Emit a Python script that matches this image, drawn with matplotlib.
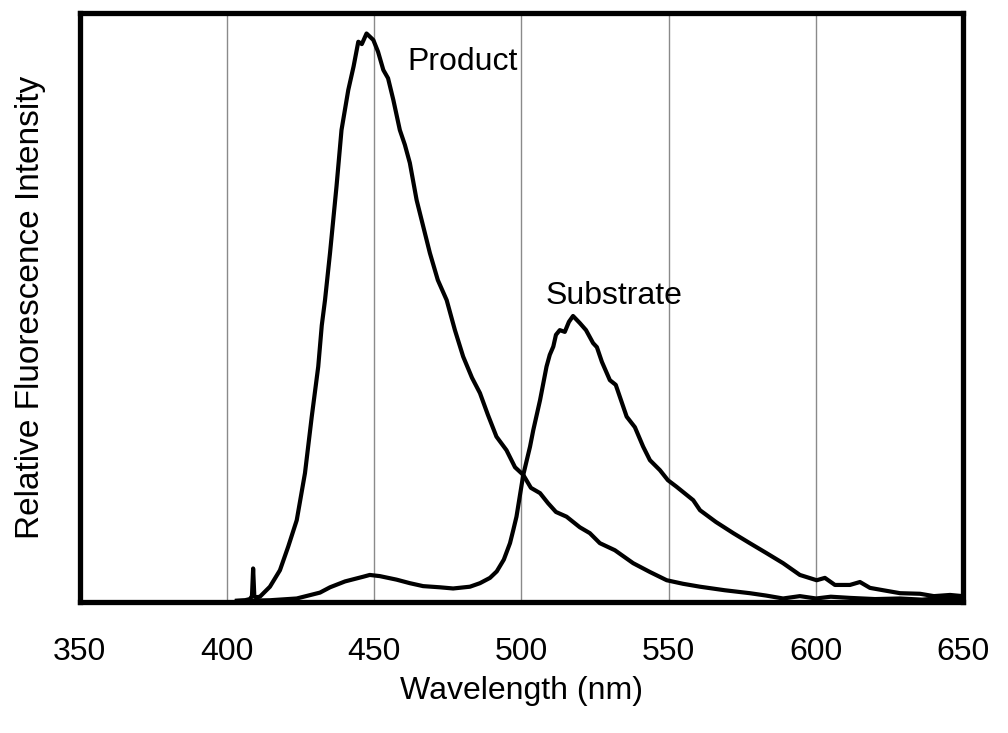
import matplotlib.pyplot as plt

plt.rcParams['font.family'] = ['Liberation Sans', 'DejaVu Sans']

# emission spectra (wavelength nm, relative intensity 0-1)
product_wl = [403.4, 406.1, 407.8, 408.5, 408.9, 409.3, 409.8, 411.2, 414.6, 418.0,
              420.8, 423.7, 426.5, 428.8, 431.0, 432.2, 433.3, 435.0, 437.2, 438.9,
              441.2, 443.0, 444.6, 445.8, 447.4, 449.7, 451.3, 453.1, 454.7, 456.5,
              458.7, 460.4, 462.1, 464.4, 466.5, 468.9, 471.6, 474.6, 477.4, 480.2,
              483.2, 485.9, 488.6, 491.5, 494.9, 497.8, 500.6, 503.2, 506.3, 509.0,
              511.7, 515.3, 519.8, 523.2, 526.6, 531.7, 537.9, 543.6, 549.3, 554.8,
              560.6, 569.0, 577.5, 583.0, 588.8, 594.5, 600.0, 605.0, 611.5, 620.0,
              628.5, 636.0, 643.0, 649.8]
product_val = [0.002, 0.003, 0.005, 0.010, 0.057, 0.010, 0.008, 0.009, 0.026, 0.054,
               0.094, 0.139, 0.219, 0.315, 0.400, 0.470, 0.513, 0.593, 0.706, 0.802,
               0.870, 0.910, 0.952, 0.948, 0.966, 0.955, 0.935, 0.904, 0.890, 0.853,
               0.802, 0.777, 0.746, 0.683, 0.641, 0.593, 0.547, 0.513, 0.462, 0.417,
               0.381, 0.355, 0.318, 0.281, 0.258, 0.229, 0.216, 0.194, 0.185, 0.168,
               0.153, 0.145, 0.127, 0.117, 0.100, 0.088, 0.066, 0.051, 0.037, 0.031,
               0.026, 0.020, 0.015, 0.011, 0.006, 0.010, 0.006, 0.009, 0.007, 0.005,
               0.006, 0.004, 0.007, 0.005]

substrate_wl = [403.4, 414.6, 423.7, 431.6, 435.0, 440.1, 446.3, 448.5, 451.9, 457.6,
                462.1, 466.6, 472.3, 476.8, 482.5, 485.9, 489.3, 491.6, 494.0, 496.1,
                497.2, 498.3, 500.6, 502.9, 504.0, 506.3, 508.5, 509.6, 510.8, 511.7,
                513.0, 514.7, 516.1, 517.5, 519.8, 521.9, 524.3, 525.6, 527.3, 530.0,
                532.0, 535.7, 538.5, 541.3, 543.6, 547.0, 549.7, 552.6, 558.3, 560.6,
                566.0, 571.9, 577.5, 583.2, 588.8, 594.5, 600.2, 603.0, 606.4, 611.5,
                614.9, 618.3, 622.8, 628.5, 635.3, 640.0, 645.5, 649.8]
substrate_val = [0.002, 0.003, 0.006, 0.016, 0.025, 0.035, 0.043, 0.046, 0.044, 0.038,
                 0.032, 0.027, 0.025, 0.023, 0.026, 0.032, 0.041, 0.052, 0.072, 0.100,
                 0.122, 0.145, 0.216, 0.264, 0.292, 0.343, 0.400, 0.420, 0.434, 0.454,
                 0.462, 0.459, 0.476, 0.486, 0.474, 0.462, 0.440, 0.433, 0.408, 0.377,
                 0.369, 0.315, 0.297, 0.264, 0.241, 0.224, 0.207, 0.196, 0.173, 0.156,
                 0.136, 0.117, 0.100, 0.083, 0.066, 0.046, 0.037, 0.041, 0.029, 0.029,
                 0.034, 0.024, 0.020, 0.015, 0.014, 0.010, 0.012, 0.010]

xticks = [350, 400, 450, 500, 550, 600, 650]

fig = plt.figure(figsize=(10.08, 7.33), dpi=100)
ax = fig.add_axes([0.079, 0.1787, 0.8767, 0.8029])

ax.plot(product_wl, product_val, color='black', lw=3.0, zorder=3)
ax.plot(substrate_wl, substrate_val, color='black', lw=3.0, zorder=3)

ax.text(461.4, 0.918, 'Product', fontsize=23, va='center', ha='left')
ax.text(508.0, 0.520, 'Substrate', fontsize=23, va='center', ha='left')

ax.set_xlim(350, 650)
ax.set_ylim(0, 1)
ax.set_xticks(xticks)
ax.set_yticks([])
ax.grid(axis='x', color='#8a8a8a', lw=1.0, zorder=1)
ax.tick_params(axis='x', length=0, labelsize=23, pad=25)
for s in ax.spines.values():
    s.set_linewidth(3.8)
    s.set_zorder(4)

ax.set_xlabel('Wavelength (nm)', fontsize=23, labelpad=7)
ax.set_ylabel('Relative Fluorescence Intensity', fontsize=24, labelpad=24)

fig.savefig('out.png', dpi=100)
